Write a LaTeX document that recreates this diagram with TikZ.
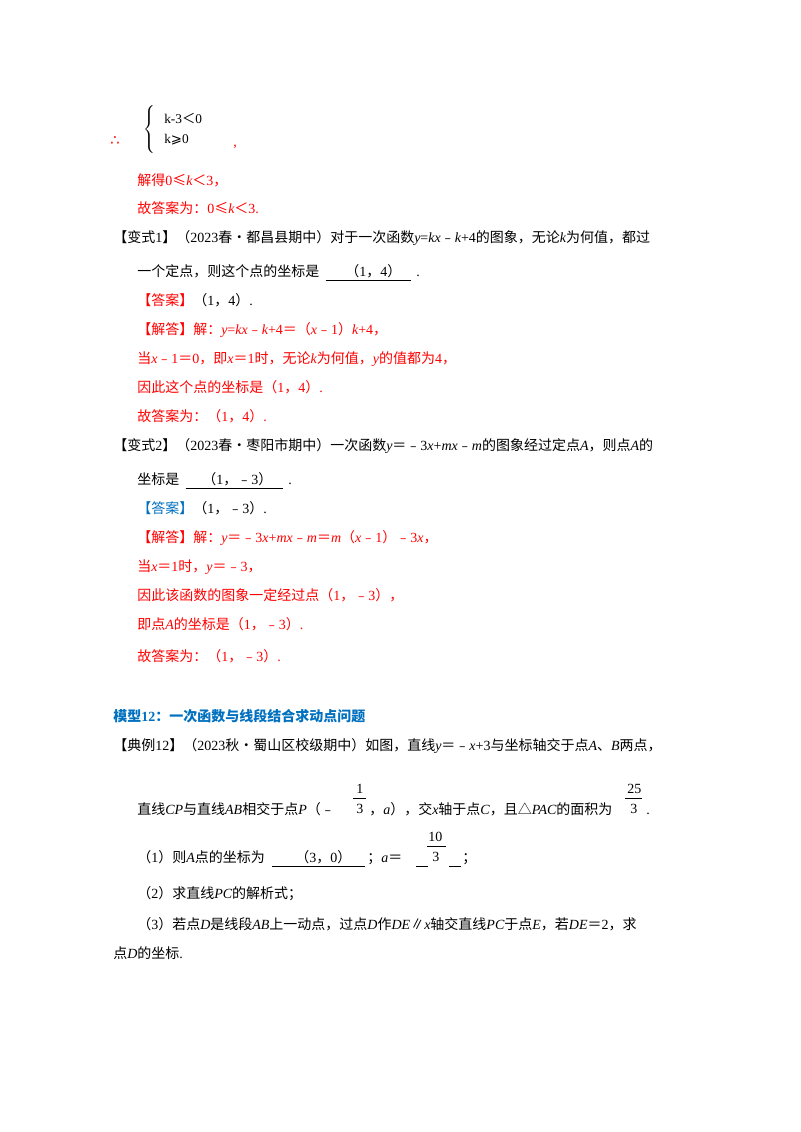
\documentclass[tikz,border=0pt]{standalone}
\usepackage{fontspec}
\setmainfont{Noto Sans CJK SC}
\newfontfamily\serif{Liberation Serif}
\newfontfamily\dejavu{DejaVu Sans}
\newfontfamily\cjk{Noto Sans CJK SC}
\newcommand\rn[1]{{\serif #1}}
\newcommand\iv[1]{{\serif\itshape #1}}
\definecolor{myred}{RGB}{255,0,0}
\definecolor{myblue}{RGB}{0,112,192}
\begin{document}
\begin{tikzpicture}[x=0.75pt,y=-0.75pt,
  t/.style={anchor=base west,inner sep=0pt,font=\fontsize{10.5pt}{12pt}\selectfont},
  rt/.style={t,text=myred},
  ul/.style={line width=0.5pt}]
\useasboundingbox[fill=white] (0,0) rectangle (800,1132);
% system
\node[rt,font=\fontsize{11pt}{12pt}\selectfont\dejavu] (th) at (110,145) {∴};
\node[inner sep=0pt] (br) at (150,128) {\fontsize{9pt}{11pt}\selectfont$\left\{\rule{0pt}{22pt}\right.$};
\node[t,font=\fontsize{10pt}{12pt}\selectfont\serif] (s1) at (164,123) {k-3{\cjk ＜}0};
\node[t,font=\fontsize{10pt}{12pt}\selectfont\serif] (s2) at (164,143) {k{\dejavu ⩾}0};
\node[rt] (cm) at (233,146) {\rn{,}};
\node[rt] (l1) at (137,185) {解得\rn{0}≤\iv{k}＜\rn{3}，};
\node[rt] (l2) at (137,213) {故答案为：\rn{0}≤\iv{k}＜\rn{3.}};
\node[t] (l3) at (113,242) {【变式\rn{1}】（\rn{2023}春•都昌县期中）对于一次函数\iv{y}\rn{=}\iv{kx}﹣\iv{k}\rn{+4}的图象，无论\iv{k}为何值，都过};
\node[t] (l4) at (137,276) {一个定点，则这个点的坐标是};
\node[t] (l4a) at (345,276) {（\rn{1}，\rn{4}）};
\node[t] (l4b) at (416,276) {\rn{.}};
\draw[ul] (l4.base east) ++(6,4) coordinate (u1a) -- ++(85,0) coordinate (u1b);
\node[t] (l5) at (137,305) {\textcolor{myred}{【答案】}（\rn{1}，\rn{4}）\rn{.}};
\node[rt] (l6) at (137,334) {【解答】解：\iv{y}\rn{=}\iv{kx}﹣\iv{k}\rn{+4}＝（\iv{x}﹣\rn{1}）\iv{k}\rn{+4}，};
\node[rt] (l7) at (137,363) {当\iv{x}﹣\rn{1}＝\rn{0}，即\iv{x}＝\rn{1}时，无论\iv{k}为何值，\iv{y}的值都为\rn{4}，};
\node[rt] (l8) at (137,392) {因此这个点的坐标是（\rn{1}，\rn{4}）\rn{.}};
\node[rt] (l9) at (137,421) {故答案为：（\rn{1}，\rn{4}）\rn{.}};
\node[t] (m1) at (113,450) {【变式\rn{2}】（\rn{2023}春•枣阳市期中）一次函数\iv{y}＝﹣\rn{3}\iv{x}\rn{+}\iv{mx}﹣\iv{m}的图象经过定点\iv{A}，则点\iv{A}的};
\node[t] (m2) at (137,484) {坐标是};
\node[t] (m2a) at (202,484) {（\rn{1}，﹣\rn{3}）};
\node[t] (m2b) at (288,484) {\rn{.}};
\draw[ul] (m2.base east) ++(6,4) coordinate (u2a) -- ++(97,0) coordinate (u2b);
\node[t] (m3) at (137,513) {\textcolor{myblue}{【答案】}（\rn{1}，﹣\rn{3}）\rn{.}};
\node[rt] (m4) at (137,542) {【解答】解：\iv{y}＝﹣\rn{3}\iv{x}\rn{+}\iv{mx}﹣\iv{m}＝\iv{m}（\iv{x}﹣\rn{1}）﹣\rn{3}\iv{x}，};
\node[rt] (m5) at (137,571) {当\iv{x}＝\rn{1}时，\iv{y}＝﹣\rn{3}，};
\node[rt] (m6) at (137,600) {因此该函数的图象一定经过点（\rn{1}，﹣\rn{3}），};
\node[rt] (m7) at (137,629) {即点\iv{A}的坐标是（\rn{1}，﹣\rn{3}）\rn{.}};
\node[rt] (m8) at (137,661) {故答案为：（\rn{1}，﹣\rn{3}）\rn{.}};
\node[t,text=myblue,font=\fontsize{10.5pt}{12pt}\selectfont\bfseries] (h) at (113,721) {模型\rn{\bfseries 12}：一次函数与线段结合求动点问题};
\node[t] (e1) at (113,750) {【典例\rn{12}】（\rn{2023}秋•蜀山区校级期中）如图，直线\iv{y}＝﹣\iv{x}\rn{+3}与坐标轴交于点\iv{A}、\iv{B}两点，};
\node[t] (e2) at (137,814) {直线\iv{CP}与直线\iv{AB}相交于点\iv{P}（﹣};
\node[t] (f1n) at (356,793) {\rn{1}};
\draw[ul] (353,798) -- (366,798);
\node[t] (f1d) at (356,813) {\rn{3}};
\node[t] (e2b) at (369,814) {，\iv{a}），交\iv{x}轴于点\iv{C}，且△\iv{PAC}的面积为};
\node[t] (f2n) at (627,793) {\rn{25}};
\draw[ul] (625,798) -- (642,798);
\node[t] (f2d) at (630,813) {\rn{3}};
\node[t] (e2c) at (646,814) {\rn{.}};
\node[t] (e3) at (137,862) {（\rn{1}）则\iv{A}点的坐标为};
\node[t] (e3a) at (295,862) {（\rn{3}，\rn{0}）};
\draw[ul] (272,866) -- (365,866);
\node[t] (e3b) at (367,862) {；\iv{a}＝};
\draw[ul] (416,866) -- (428,866);
\node[t] (f3n) at (428,841) {\rn{10}};
\draw[ul] (427,846) -- (446,846);
\node[t] (f3d) at (432,861) {\rn{3}};
\draw[ul] (449,866) -- (461,866);
\node[t] (e3c) at (462,862) {；};
\node[t] (e4) at (137,898) {（\rn{2}）求直线\iv{PC}的解析式；};
\node[t] (e5) at (137,929) {（\rn{3}）若点\iv{D}是线段\iv{AB}上一动点，过点\iv{D}作\iv{DE}∥\iv{x}轴交直线\iv{PC}于点\iv{E}，若\iv{DE}＝\rn{2}，求};
\node[t] (e6) at (113,958) {点\iv{D}的坐标\rn{.}};
\end{tikzpicture}
\end{document}
